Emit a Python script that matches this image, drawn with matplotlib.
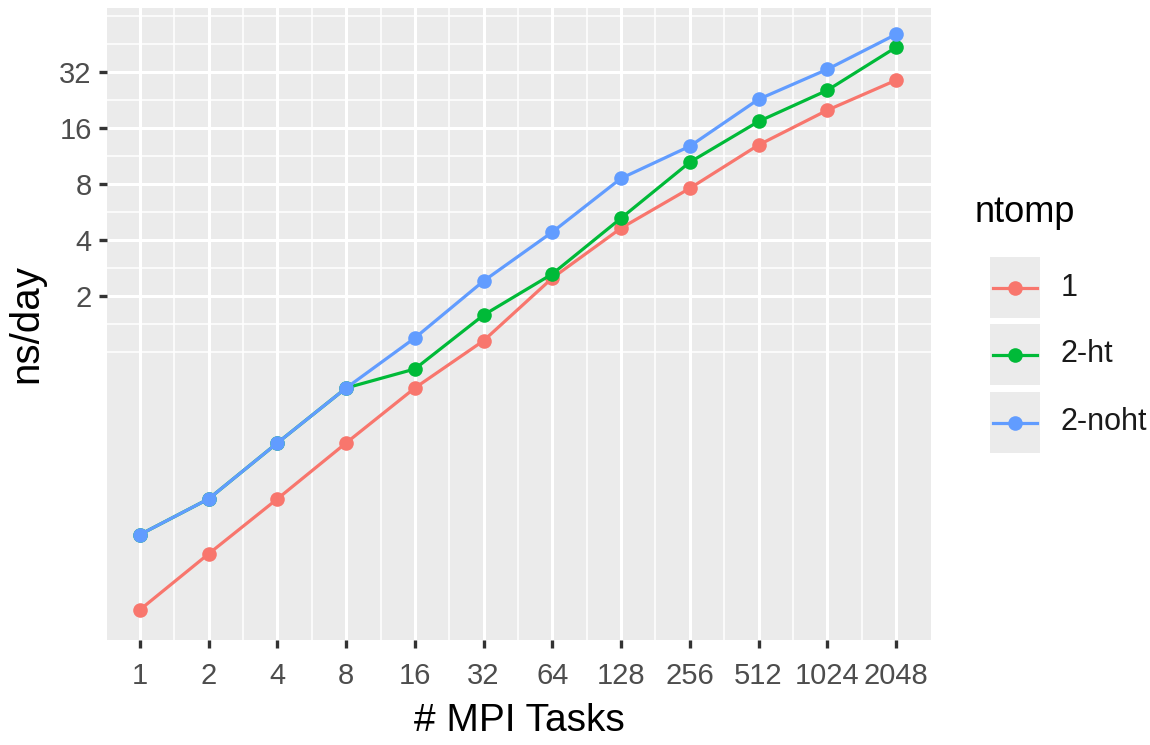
import matplotlib
matplotlib.use("Agg")
import matplotlib.pyplot as plt
from matplotlib.ticker import FixedLocator, NullFormatter, FixedFormatter
from matplotlib.lines import Line2D
from matplotlib.patches import Rectangle
import numpy as np

# ---- data ----
tasks = [1, 2, 4, 8, 16, 32, 64, 128, 256, 512, 1024, 2048]
ns_1 = [0.041, 0.082, 0.162, 0.324, 0.64, 1.15, 2.5, 4.64, 7.6, 13.0, 20.0, 29.0]
ns_2ht = [0.104, 0.162, 0.324, 0.64, 0.81, 1.58, 2.63, 5.25, 10.5, 17.4, 25.6, 43.6]
ns_2noht = [0.104, 0.162, 0.324, 0.64, 1.19, 2.41, 4.42, 8.6, 12.8, 22.9, 33.2, 51.2]
series_names = ["1", "2-ht", "2-noht"]
series_vals = [ns_1, ns_2ht, ns_2noht]
colors = ["#F8766D", "#00BA38", "#619CFF"]
y_ticks = [2, 4, 8, 16, 32]
y_minor_grid = [1, 2 ** 0.5, 2 ** 1.5, 2 ** 2.5, 2 ** 3.5, 2 ** 4.5, 2 ** 5.5, 64]

plt.rcParams["font.family"] = ["Liberation Sans", "DejaVu Sans"]

fig = plt.figure(figsize=(11.5, 7.45), dpi=100)
ax = fig.add_axes([107 / 1150, 1 - 640 / 745, (931 - 107) / 1150, (640 - 8) / 745])
ax.set_facecolor("#EBEBEB")
for s in ax.spines.values():
    s.set_visible(False)

ax.set_xscale("log", base=2)
ax.set_yscale("log", base=2)
ax.set_xlim(2 ** -0.48, 2 ** 11.51)
ax.set_ylim(2 ** -5.15, 2 ** 6.15)

# ticks
ax.xaxis.set_major_locator(FixedLocator(tasks))
ax.xaxis.set_major_formatter(FixedFormatter([str(t) for t in tasks]))
x_minor = [2 ** (k + 0.5) for k in range(0, 11)]
ax.xaxis.set_minor_locator(FixedLocator(x_minor))
ax.xaxis.set_minor_formatter(NullFormatter())

ax.yaxis.set_major_locator(FixedLocator(y_ticks))
ax.yaxis.set_major_formatter(FixedFormatter([str(t) for t in y_ticks]))
ax.yaxis.set_minor_locator(FixedLocator(y_minor_grid))
ax.yaxis.set_minor_formatter(NullFormatter())

ax.tick_params(axis="both", which="major", length=6, width=2.4, color="#333333",
               labelsize=21, labelcolor="#4D4D4D")
ax.tick_params(axis="x", which="major", pad=10)
ax.tick_params(axis="y", which="major", pad=5)
ax.tick_params(axis="both", which="minor", length=0)

ax.grid(True, which="major", color="white", linewidth=2.2)
ax.grid(True, which="minor", color="white", linewidth=1.1)
ax.set_axisbelow(True)

for name, vals, c in zip(series_names, series_vals, colors):
    ax.plot(tasks, vals, color=c, linewidth=2.3, marker="o", markersize=10.5,
            markeredgewidth=0, label=name, zorder=3)

ax.set_xlabel("# MPI Tasks", fontsize=28, color="black", labelpad=9)
ax.set_ylabel("ns/day", fontsize=29, color="black", labelpad=10)

# legend (ggplot style)
fig.text(975 / 1150, 1 - 212 / 745, "ntomp", fontsize=26, va="center", ha="left")
key_tops = [257, 324, 392]
for i, (name, c) in enumerate(zip(series_names, colors)):
    top = key_tops[i]
    h = 61
    fig.add_artist(Rectangle((990 / 1150, 1 - (top + h) / 745), 50 / 1150, h / 745,
                             transform=fig.transFigure, facecolor="#EBEBEB",
                             edgecolor="none"))
    yc = 1 - (top + h / 2) / 745
    fig.add_artist(Line2D([993 / 1150, 1037 / 1150], [yc, yc], transform=fig.transFigure,
                          color=c, linewidth=2.3))
    fig.add_artist(Line2D([1015 / 1150], [yc], transform=fig.transFigure,
                          color=c, marker="o", markersize=10.5, markeredgewidth=0))
    fig.text(1061 / 1150, yc, name, fontsize=22, va="center", ha="left", color="#1A1A1A")

fig.savefig("out.png", dpi=100)
